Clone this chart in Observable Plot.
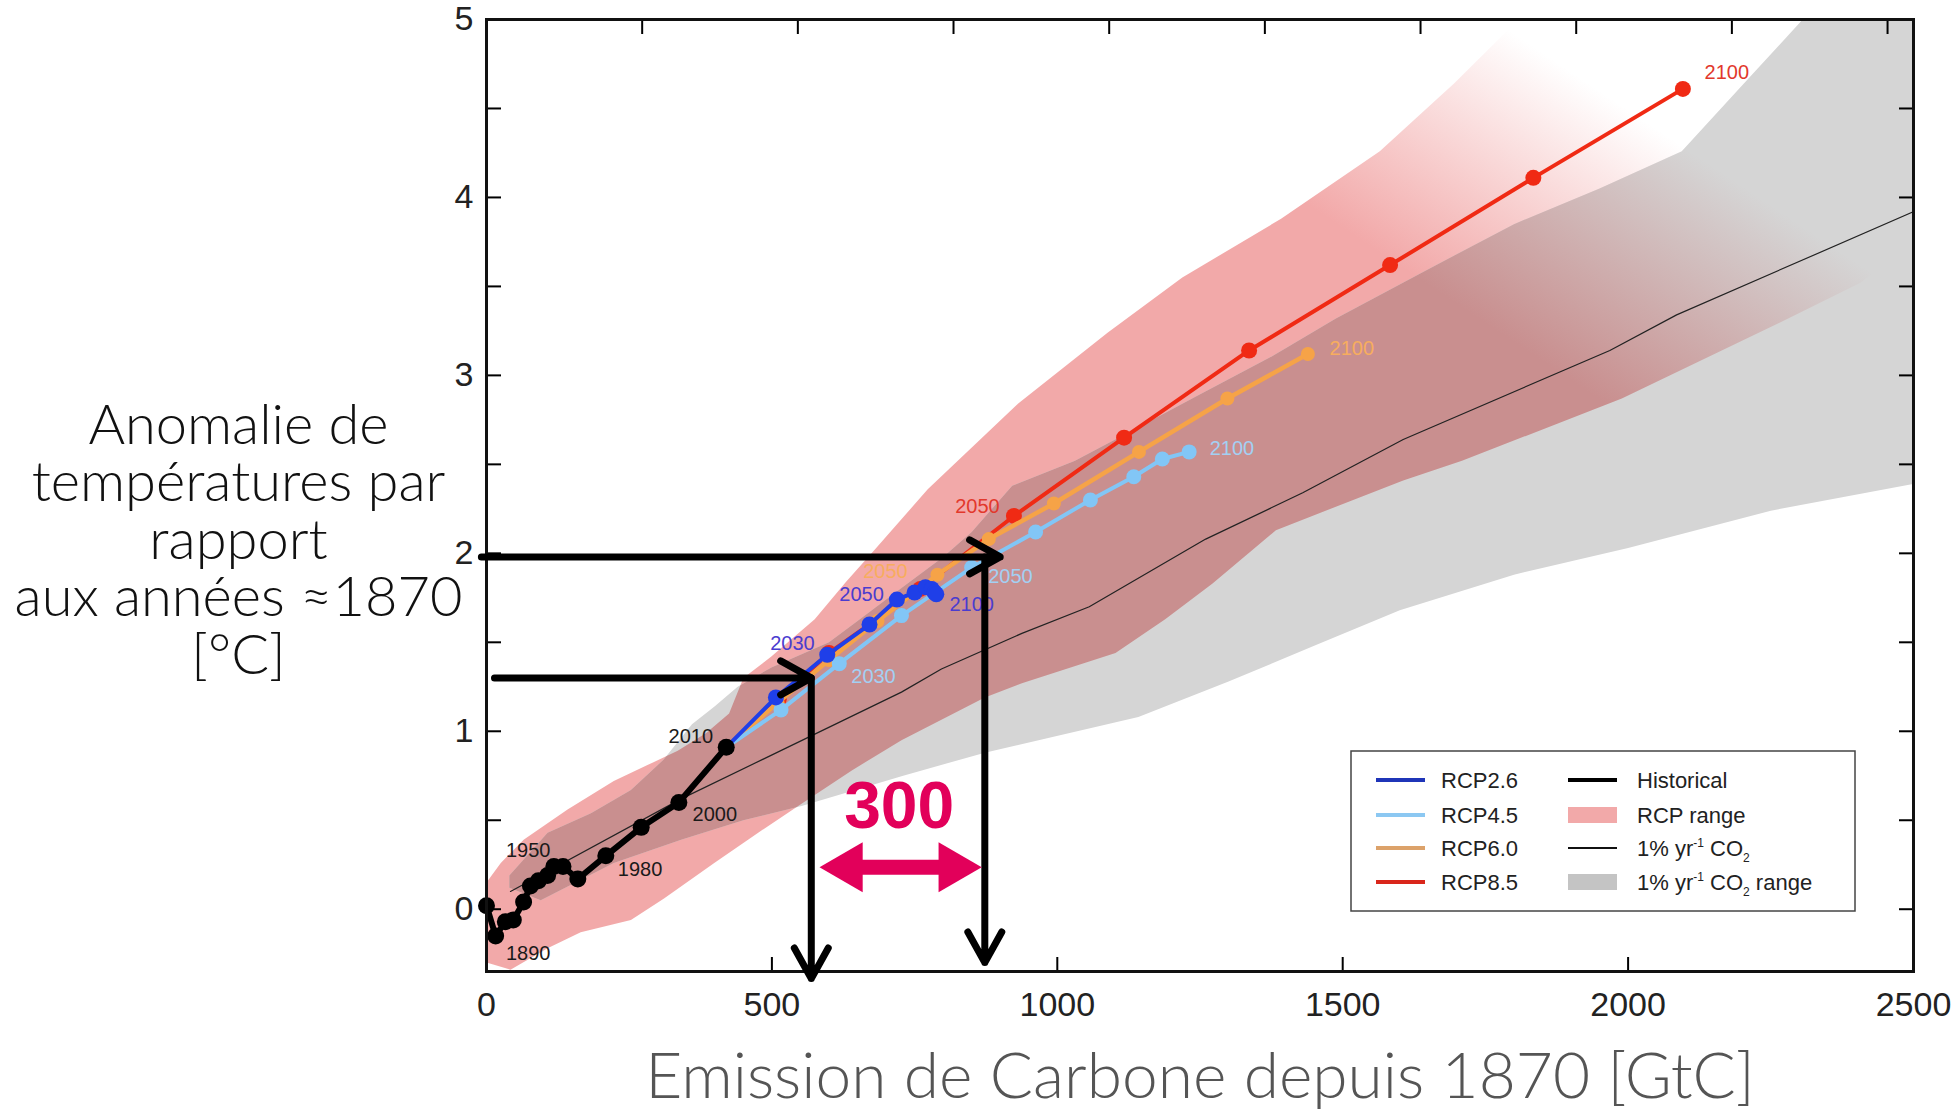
<!DOCTYPE html>
<html><head><meta charset="utf-8">
<script src="https://cdn.jsdelivr.net/npm/d3@7"></script>
<script src="https://cdn.jsdelivr.net/npm/@observablehq/plot@0.6"></script>
<style>
html,body{margin:0;padding:0;background:#fff;}
#chart{width:1952px;height:1112px;position:relative;}
</style></head><body><div id="chart"></div>
<script>
// ---------------- DATA ----------------
// Historical cumulative carbon emissions (GtC) vs temperature anomaly (°C), decadal, 1870..2010
const histYears = [1870,1880,1890,1900,1910,1920,1930,1940,1950,1960,1970,1980,1990,2000,2010];
const histX = [0,16,33,47,65,77,91,107,118,134,160,209,271,337,420];
const histY = [0.02,-0.15,-0.07,-0.06,0.04,0.13,0.16,0.19,0.24,0.24,0.17,0.30,0.46,0.60,0.91];

// RCP scenarios, decadal 2010..2100
const rcpYears = [2010,2020,2030,2040,2050,2060,2070,2080,2090,2100];
const rcp26X = [420,507,597,671,719,750,769,780,785,788];
const rcp26Y = [0.91,1.19,1.43,1.60,1.74,1.78,1.81,1.80,1.78,1.77];
const rcp45X = [420,516,618,727,850,962,1058,1134,1184,1231];
const rcp45Y = [0.91,1.12,1.38,1.65,1.92,2.12,2.30,2.43,2.53,2.57];
const rcp60X = [420,510,600,685,790,880,994,1143,1298,1439];
const rcp60Y = [0.91,1.16,1.40,1.62,1.88,2.08,2.28,2.57,2.87,3.12];
const rcp85X = [420,512,600,760,924,1117,1336,1583,1834,2096];
const rcp85Y = [0.91,1.18,1.44,1.80,2.21,2.65,3.14,3.62,4.11,4.61];

// 1% per year CO2 experiment (mean)
const onePctX = [42,341,727,797,938,1056,1260,1430,1606,1968,2085,2500];
const onePctY = [0.10,0.62,1.22,1.35,1.55,1.70,2.08,2.34,2.64,3.14,3.34,3.92];

// RCP range (outline of the plume)
const rcpRangeX = [0,42,107,165,253,311,399,476,546,640,727,873,938,1102,1189,1272,1383,1606,1709,1989,2268,2407,2480,2300,2150,2050,1850,1808,1695,1565,1392,1219,1088,931,773,680,630,575,499,450,425,385,335,282,223,142,65,25,0];
const rcpRangeY = [-0.30,-0.34,-0.22,-0.13,-0.06,0.06,0.26,0.43,0.58,0.78,0.95,1.19,1.27,1.44,1.63,1.83,2.13,2.41,2.52,2.87,3.30,3.52,3.70,4.30,4.70,5.30,5.30,5.00,4.64,4.26,3.88,3.55,3.24,2.84,2.36,2.02,1.84,1.63,1.42,1.30,1.10,0.99,0.89,0.81,0.72,0.56,0.39,0.26,0.15];

// 1% yr-1 CO2 range (outline of the grey plume)
const co2RangeX = [40,95,223,341,450,552,730,873,1142,1300,1450,1600,1800,2000,2250,2500,2500,2350,2303,2200,2094,1950,1800,1640,1488,1372,1242,1137,1031,921,850,800,750,700,650,600,500,440,400,360,310,253,183,107,40];
const co2RangeY = [0.12,0.05,0.26,0.39,0.50,0.58,0.75,0.88,1.08,1.28,1.48,1.68,1.88,2.03,2.24,2.39,5.40,5.40,4.99,4.63,4.26,4.05,3.85,3.58,3.32,3.10,2.88,2.70,2.52,2.38,2.12,1.98,1.86,1.74,1.62,1.50,1.36,1.25,1.14,1.04,0.84,0.67,0.54,0.43,0.19];

// Year labels written on the chart
const yearLabelText = ["1890","1950","1980","2000","2010","2030","2050","2100","2030","2050","2100","2050","2100","2050","2100"];
const yearLabelSeries = ["Historical","Historical","Historical","Historical","Historical","RCP2.6","RCP2.6","RCP2.6","RCP4.5","RCP4.5","RCP4.5","RCP6.0","RCP6.0","RCP8.5","RCP8.5"];
const yearLabelX = [73,73,269,400,358,536,657,850,678,918,1306,699,1516,860,2173];
const yearLabelY = [-0.25,0.33,0.22,0.53,0.97,1.49,1.77,1.71,1.31,1.87,2.59,1.90,3.15,2.26,4.70];

// Reading guides (black arrows) : from (x1,y1) to (x2,y2)
const guideX1 = [-9, 873, 14, 569];
const guideY1 = [1.98, 1.98, 1.30, 1.30];
const guideX2 = [900, 873, 569, 569];
const guideY2 = [1.98, -0.30, 1.30, -0.39];

// Emission gap annotation
const gapFrom = 583, gapTo = 868, gapY = 0.236;
const gapText = "300", gapTextX = 723, gapTextY = 0.573;

// Axes
const xTickValues = [0,500,1000,1500,2000,2500];
const yTickValues = [0,0.5,1,1.5,2,2.5,3,3.5,4,4.5,5];
const yLabelValues = [0,1,2,3,4,5];
const topTicksGtCO2 = [1000,2000,3000,4000,5000,6000,7000,8000,9000];
const carbonPerCO2 = 12/44;

const xTitle = "Emission de Carbone depuis 1870 [GtC]";
const yTitle = "Anomalie de\ntempératures par\nrapport\naux années ≈1870\n[°C]";

const seriesNames = ["RCP2.6","RCP4.5","RCP6.0","RCP8.5"];
const legendRight = ["Historical","RCP range","1% yr-1 CO2","1% yr-1 CO2 range"];

// ---------------- STYLE ----------------
const colors = {"RCP2.6":"#1f3fe8","RCP4.5":"#82c6f6","RCP6.0":"#f6a347","RCP8.5":"#f02a14","Historical":"#000"};
const labelColors = {"Historical":"#1a1a1a","RCP2.6":"#4a3ccf","RCP4.5":"#a3d0f3","RCP6.0":"#f7ad5e","RCP8.5":"#e2382c"};
const legendColors = {"RCP2.6":"#1f35b8","RCP4.5":"#8cc8f2","RCP6.0":"#dca26a","RCP8.5":"#d9261b"};
const pinkColor = "#f2a9a9", grayColor = "#d5d5d5", darkColor = "#c98f8f", magenta = "#e2005a";
const sans = "'Liberation Sans', Arial, Helvetica, sans-serif";
const titleFont = "Lato, 'Noto Sans', sans-serif";

// ---------------- TABLES ----------------
const zipXY = (xs, ys) => xs.map((x, i) => ({x, y: ys[i]}));
const hist = zipXY(histX, histY);
const rcp = {
  "RCP2.6": zipXY(rcp26X, rcp26Y),
  "RCP4.5": zipXY(rcp45X, rcp45Y),
  "RCP6.0": zipXY(rcp60X, rcp60Y),
  "RCP8.5": zipXY(rcp85X, rcp85Y)
};
const onePct = zipXY(onePctX, onePctY);
const rcpRange = zipXY(rcpRangeX, rcpRangeY);
const co2Range = zipXY(co2RangeX, co2RangeY);
const yearLabels = yearLabelText.map((t, i) => ({text: t, series: yearLabelSeries[i], x: yearLabelX[i], y: yearLabelY[i]}));
const guides = guideX1.map((x1, i) => ({x1, y1: guideY1[i], x2: guideX2[i], y2: guideY2[i]}));
const topTicks = topTicksGtCO2.map(v => v * carbonPerCO2);

const dotR = {"RCP2.6": 8, "RCP4.5": 7.5, "RCP6.0": 7, "RCP8.5": 8};
const lineW = {"RCP2.6": 4, "RCP4.5": 4, "RCP6.0": 4.5, "RCP8.5": 4};
const seriesMarks = [];
for (const s of ["RCP8.5","RCP6.0","RCP4.5","RCP2.6"]) {
  seriesMarks.push(Plot.line(rcp[s], {x: "x", y: "y", stroke: colors[s], strokeWidth: lineW[s]}));
  seriesMarks.push(Plot.dot(rcp[s].slice(1), {x: "x", y: "y", r: dotR[s], fill: colors[s]}));
}

const chart = Plot.plot({
  width: 1952,
  height: 1112,
  marginLeft: 486,
  marginRight: 39,
  marginTop: 19,
  marginBottom: 141,
  x: {domain: [0, 2500]},
  y: {domain: [-0.35, 5]},
  style: {background: "#fff", overflow: "visible"},
  marks: [
    // RCP plume (pink, fading), grey plume on top, then the overlap (dark rose) clipped to the RCP plume
    Plot.line(rcpRange, {x: "x", y: "y", fill: "url(#pinkFade)", stroke: "none", curve: "linear-closed", clip: true}),
    Plot.line(co2Range, {x: "x", y: "y", fill: grayColor, stroke: "none", curve: "linear-closed", clip: true}),
    Plot.line(co2Range, {x: "x", y: "y", fill: "url(#darkFade)", stroke: "none", curve: "linear-closed", clip: true}),
    Plot.line(onePct, {x: "x", y: "y", stroke: "#222", strokeWidth: 1.2, clip: true}),
    ...seriesMarks,
    Plot.line(hist, {x: "x", y: "y", stroke: "#000", strokeWidth: 6}),
    Plot.dot(hist, {x: "x", y: "y", r: 8.5, fill: "#000"}),
    Plot.text(yearLabels, {x: "x", y: "y", text: "text", fill: d => labelColors[d.series], fontSize: 20, fontFamily: sans}),
    // axes: inward ticks on all four sides
    Plot.axisY({anchor: "left", ticks: yTickValues, tickSize: -15, tickFormat: () => "", label: null, strokeWidth: 2}),
    Plot.axisY({anchor: "right", ticks: yTickValues, tickSize: -15, tickFormat: () => "", label: null, strokeWidth: 2}),
    Plot.axisX({anchor: "bottom", ticks: xTickValues, tickSize: -14, tickFormat: () => "", label: null, strokeWidth: 2}),
    Plot.axisX({anchor: "top", ticks: topTicks, tickSize: -14, tickFormat: () => "", label: null, strokeWidth: 2}),
    Plot.axisY({anchor: "left", ticks: yLabelValues, tickSize: 0, tickPadding: 13, tickFormat: d => String(d), label: null, fontSize: 34, fontFamily: sans, fill: "#222"}),
    Plot.axisX({anchor: "bottom", ticks: xTickValues, tickSize: 0, tickPadding: 20, tickFormat: d => String(d), label: null, fontSize: 34, fontFamily: sans, fill: "#222"}),
    Plot.frame({stroke: "#111", strokeWidth: 3}),
    // axis titles
    Plot.text([yTitle], {frameAnchor: "left", dx: -248, dy: 45, text: d => d, textAnchor: "middle", lineHeight: 1.027, fontSize: 56, fontWeight: 300, fontFamily: titleFont, fill: "#111"}),
    Plot.text([xTitle], {frameAnchor: "bottom", dy: 126, text: d => d, textAnchor: "middle", fontSize: 64, fontWeight: 300, fontFamily: titleFont, fill: "#555"}),
    // reading guides
    Plot.arrow(guides, {x1: "x1", y1: "y1", x2: "x2", y2: "y2", stroke: "#000", strokeWidth: 7, headLength: 7.5, headAngle: 58}),
    // 300 GtC gap
    Plot.ruleY([gapY], {x1: gapFrom, x2: gapTo, stroke: magenta, strokeWidth: 15, insetLeft: 30, insetRight: 30}),
    Plot.dot([gapFrom], {x: d => d, y: gapY, symbol: "triangle", r: 18.5, rotate: -90, dx: 29, fill: magenta, stroke: "none"}),
    Plot.dot([gapTo], {x: d => d, y: gapY, symbol: "triangle", r: 18.5, rotate: 90, dx: -29, fill: magenta, stroke: "none"}),
    Plot.text([gapText], {x: gapTextX, y: gapTextY, text: d => d, fill: magenta, fontSize: 66, fontWeight: "bold", fontFamily: sans})
  ]
});

// gradients that fade the RCP plume towards the upper right
const xs = chart.scale("x"), ys = chart.scale("y");
const fadeFrom = [1700, 3.4], fadeTo = [1950, 4.6];
const defs = d3.select(chart).insert("defs", ":first-child");
function fade(id, color) {
  const g = defs.append("linearGradient").attr("id", id).attr("gradientUnits", "userSpaceOnUse")
    .attr("x1", xs.apply(fadeFrom[0])).attr("y1", ys.apply(fadeFrom[1]))
    .attr("x2", xs.apply(fadeTo[0])).attr("y2", ys.apply(fadeTo[1]));
  g.append("stop").attr("offset", 0).attr("stop-color", color).attr("stop-opacity", 1);
  g.append("stop").attr("offset", 1).attr("stop-color", color).attr("stop-opacity", 0);
}
fade("pinkFade", pinkColor);
fade("darkFade", darkColor);
// clip the overlap layer to the RCP plume
const pinkD = d3.line().x(d => xs.apply(d.x)).y(d => ys.apply(d.y)).curve(d3.curveLinearClosed)(rcpRange);
defs.append("clipPath").attr("id", "pinkClip").append("path").attr("d", pinkD);
d3.select(chart).selectAll('[fill="url(#darkFade)"]').each(function () {
  const sel = this.tagName.toLowerCase() === "path" ? d3.select(this) : d3.select(this).selectAll("path");
  sel.attr("clip-path", "url(#pinkClip)");
});

// legend
const L = d3.select(chart).append("g").attr("font-family", sans).attr("font-size", 22).attr("fill", "#222").attr("text-anchor", "start");
const box = {x: 1351, y: 751, w: 504, h: 160};
L.append("rect").attr("x", box.x).attr("y", box.y).attr("width", box.w).attr("height", box.h)
  .attr("fill", "#fff").attr("stroke", "#444").attr("stroke-width", 1.5);
const rowY = [780, 815, 848, 882];
const c1 = box.x + 25, c2 = box.x + 217;
seriesNames.forEach((s, i) => {
  L.append("line").attr("x1", c1).attr("x2", c1 + 49).attr("y1", rowY[i]).attr("y2", rowY[i])
    .attr("stroke", legendColors[s]).attr("stroke-width", 4);
  L.append("text").attr("x", c1 + 65).attr("y", rowY[i]).attr("dy", "0.35em").text(s);
});
L.append("line").attr("x1", c2).attr("x2", c2 + 49).attr("y1", rowY[0]).attr("y2", rowY[0]).attr("stroke", "#000").attr("stroke-width", 4);
L.append("rect").attr("x", c2).attr("y", rowY[1] - 8).attr("width", 49).attr("height", 16).attr("fill", pinkColor);
L.append("line").attr("x1", c2).attr("x2", c2 + 49).attr("y1", rowY[2]).attr("y2", rowY[2]).attr("stroke", "#111").attr("stroke-width", 2);
L.append("rect").attr("x", c2).attr("y", rowY[3] - 8).attr("width", 49).attr("height", 16).attr("fill", "#c4c4c4");
L.append("text").attr("x", c2 + 69).attr("y", rowY[0]).attr("dy", "0.35em").text(legendRight[0]);
L.append("text").attr("x", c2 + 69).attr("y", rowY[1]).attr("dy", "0.35em").text(legendRight[1]);
function co2Label(t, y, suffix) {
  t.attr("x", c2 + 69).attr("y", y + 8);
  t.append("tspan").text("1% yr");
  t.append("tspan").attr("font-size", 12).attr("dy", -9).text("-1");
  t.append("tspan").attr("dy", 9).text(" CO");
  t.append("tspan").attr("font-size", 12).attr("dy", 6).text("2");
  t.append("tspan").attr("dy", -6).text(suffix);
}
co2Label(L.append("text"), rowY[2], "");
co2Label(L.append("text"), rowY[3], " range");

document.getElementById("chart").appendChild(chart);
</script>
</body></html>
